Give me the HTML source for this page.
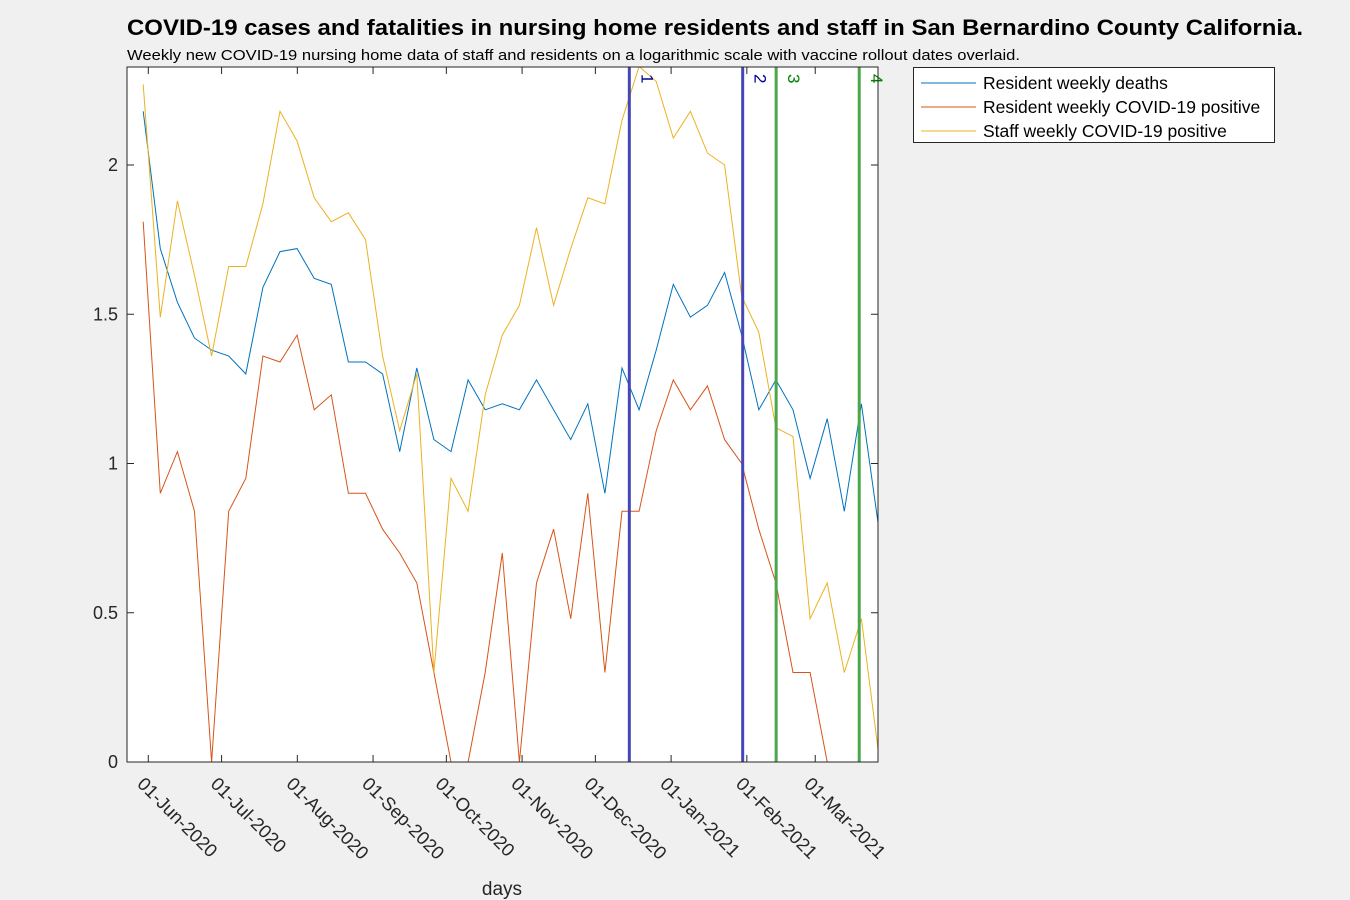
<!DOCTYPE html>
<html><head><meta charset="utf-8"><style>
body{margin:0;background:#f0f0f0;font-family:"Liberation Sans",Arial,sans-serif}
</style></head><body>
<svg id="c" width="1350" height="900" xmlns="http://www.w3.org/2000/svg" style="display:block">
<text x="127" y="35" font-size="22" font-weight="bold" fill="#000" textLength="1176" lengthAdjust="spacingAndGlyphs">COVID-19 cases and fatalities in nursing home residents and staff in San Bernardino County California.</text>
<text x="127" y="60" font-size="15" fill="#000" textLength="893" lengthAdjust="spacingAndGlyphs">Weekly new COVID-19 nursing home data of staff and residents on a logarithmic scale with vaccine rollout dates overlaid.</text>
<rect x="127" y="67" width="751" height="695" fill="#fff"/>
<g id="marks"></g>
<rect x="127" y="67" width="751" height="695" fill="none" stroke="#262626"/>
<g id="axes"></g>
<text x="502" y="895" font-size="19" text-anchor="middle" fill="#262626">days</text>
<g>
<rect x="913.5" y="67.5" width="361" height="75" fill="#fff" stroke="#262626"/>
<g id="legend"></g>
</g>
</svg>
<script>
const seriesNames=["Resident weekly deaths","Resident weekly COVID-19 positive","Staff weekly COVID-19 positive"];
const blueVals=[2.18,1.72,1.54,1.42,1.38,1.36,1.30,1.59,1.71,1.72,1.62,1.60,1.34,1.34,1.30,1.04,1.32,1.08,1.04,1.28,1.18,1.20,1.18,1.28,1.18,1.08,1.20,0.90,1.32,1.18,1.38,1.60,1.49,1.53,1.64,1.43,1.18,1.28,1.18,0.95,1.15,0.84,1.20,0.79];
const orangeVals=[1.81,0.90,1.04,0.84,0,0.84,0.95,1.36,1.34,1.43,1.18,1.23,0.90,0.90,0.78,0.70,0.60,0.30,0,0,0.30,0.70,0,0.60,0.78,0.48,0.90,0.30,0.84,0.84,1.11,1.28,1.18,1.26,1.08,1.00,0.78,0.60,0.30,0.30,0,0,0,0];
const yellowVals=[2.27,1.49,1.88,1.63,1.36,1.66,1.66,1.87,2.18,2.08,1.89,1.81,1.84,1.75,1.36,1.11,1.30,0.30,0.95,0.84,1.23,1.43,1.53,1.79,1.53,1.72,1.89,1.87,2.15,2.33,2.28,2.09,2.18,2.04,2.00,1.56,1.44,1.12,1.09,0.48,0.60,0.30,0.48,0.03];
const firstDay=-2.1, stepDays=7; // days since 01-Jun-2020
const tickDays=[0,30,61,92,122,153,183,214,245,273];
const tickLabels=["01-Jun-2020","01-Jul-2020","01-Aug-2020","01-Sep-2020","01-Oct-2020","01-Nov-2020","01-Dec-2020","01-Jan-2021","01-Feb-2021","01-Mar-2021"];
const yTicks=[0,0.5,1,1.5,2];
const vaxDays=[196.9,243.3,257,291];
const vaxLabels=["1","2","3","4"];
const colors=["#0072BD","#D95319","#EDB120"];
const NS="http://www.w3.org/2000/svg";
const X=d=>148.3+(d)*2.443;
const Y=v=>762-v*298.5;
function mk(t,a,p){const e=document.createElementNS(NS,t);for(const k in a)e.setAttribute(k,a[k]);p.appendChild(e);return e;}
const marks=document.getElementById('marks'),axes=document.getElementById('axes'),leg=document.getElementById('legend');
const clip=mk('clipPath',{id:'cp'},marks);mk('rect',{x:127,y:67,width:751,height:695},clip);
const g=mk('g',{'clip-path':'url(#cp)'},marks);
[blueVals,orangeVals,yellowVals].forEach((vals,si)=>{
 const pts=vals.map((v,i)=>X(firstDay+i*stepDays).toFixed(1)+','+Y(v).toFixed(1)).join(' ');
 const pl=mk('polyline',{points:pts,fill:'none',stroke:colors[si],'stroke-width':1},g);
 
 
});
vaxDays.forEach((d,i)=>{
 const c=i<2?'#4646B8':'#4CA64C', tc=i<2?'#00008B':'#008000';
 const l=mk('line',{x1:X(d),x2:X(d),y1:67,y2:762,stroke:c,'stroke-width':3},marks);
 
 
 const t=mk('text',{x:0,y:0,'font-size':17,fill:tc,transform:`translate(${X(d)+12},${74}) rotate(90)`},marks);
 t.textContent=vaxLabels[i];
 
 
});
tickDays.forEach((d,i)=>{
 const x=X(d);
 mk('line',{x1:x,x2:x,y1:762,y2:755,stroke:'#262626'},axes);
 mk('line',{x1:x,x2:x,y1:67,y2:74,stroke:'#262626'},axes);
 const t=mk('text',{x:0,y:0,'font-size':18.5,fill:'#262626',transform:`translate(${x-12},${785}) rotate(45)`},axes);
 t.textContent=tickLabels[i];
 
 
});
yTicks.forEach(v=>{
 const y=Y(v);
 mk('line',{x1:127,x2:134,y1:y,y2:y,stroke:'#262626'},axes);
 mk('line',{x1:871,x2:878,y1:y,y2:y,stroke:'#262626'},axes);
 const t=mk('text',{x:118,y:y+6,'font-size':18,'text-anchor':'end',fill:'#262626'},axes);
 t.textContent=String(v);
 
 
});
seriesNames.forEach((n,i)=>{
 const y=83+i*24;
 const l=mk('line',{x1:921,x2:976,y1:y,y2:y,stroke:colors[i]},leg);
 
 
 const t=mk('text',{x:983,y:y+6,'font-size':17.5,fill:'#000'},leg);
 t.textContent=n;
 
 
});
</script>
</body></html>
